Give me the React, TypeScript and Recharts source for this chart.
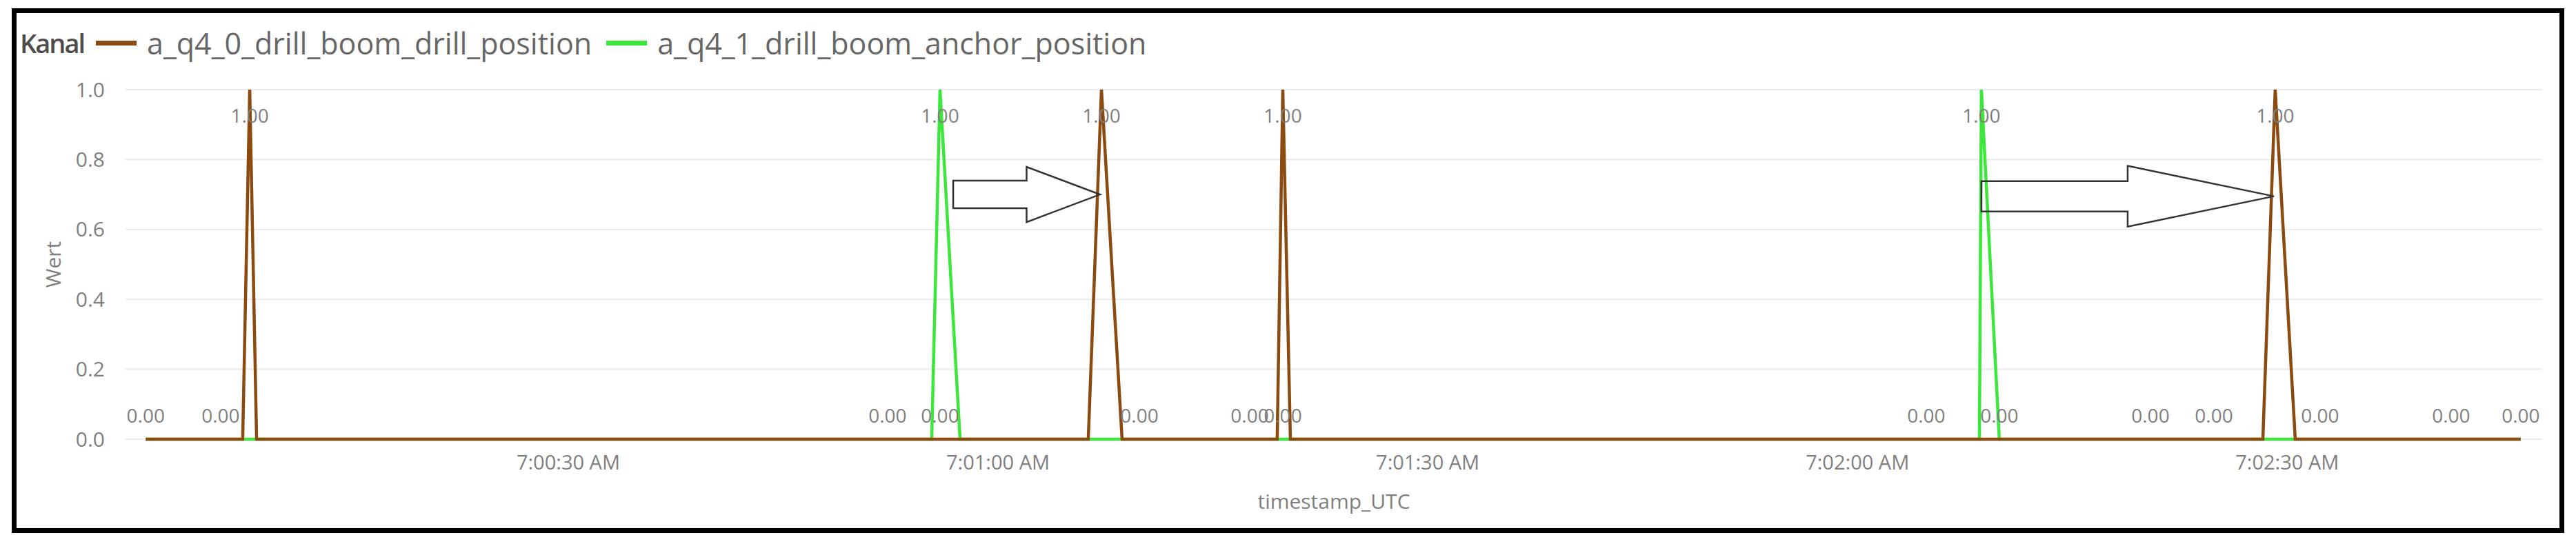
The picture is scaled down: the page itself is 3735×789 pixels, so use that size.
import { LineChart, Line, XAxis, YAxis, CartesianGrid, ReferenceLine, Label } from 'recharts'

const FONT = '"Segoe UI", "Open Sans", sans-serif'
const BROWN = '#8b4a10'
const GREEN = '#3ce63c'
const TEXT = '#7f7f7f'

// seconds after 7:00:00 AM, both channels share the timestamps
const seconds = [
  0.5, 5.73, 7.27, 7.76, 8.24,
  52.29, 55.37, 55.95, 57.35,
  66.3, 67.22, 68.66, 69.87,
  77.57, 79.49, 79.88, 80.41,
  124.8, 128.51, 128.65, 129.9,
  140.45, 144.88, 148.3, 149.16, 150.56,
  152.29, 161.44, 166.3,
]
const drillPosition = [
  0, 0, 0, 1, 0,
  0, 0, 0, 0,
  0, 1, 0, 0,
  0, 0, 1, 0,
  0, 0, 0, 0,
  0, 0, 0, 1, 0,
  0, 0, 0,
]
const anchorPosition = [
  0, 0, 0, 0, 0,
  0, 0, 1, 0,
  0, 0, 0, 0,
  0, 0, 0, 0,
  0, 0, 1, 0,
  0, 0, 0, 0, 0,
  0, 0, 0,
]
// points whose data label is visible (the rest are hidden like in Power BI)
const drillLabelAt = [0.5, 5.73, 7.76, 52.29, 55.95, 67.22, 69.87, 77.57, 79.88, 124.8, 129.9, 140.45, 144.88, 149.16, 152.29, 161.44, 166.3]
const anchorLabelAt = [55.95, 79.88, 128.65]

const xDomain = [-0.91, 167.8]
const xTicks = [30, 60, 90, 120, 150]
const yTicks = [0, 0.2, 0.4, 0.6, 0.8, 1]

// annotation arrows: from time, to time, at value
const arrowFrom = [56.87, 128.65]
const arrowTo = [67.12, 149.07]
const arrowAt = [0.7, 0.695]

const chartData = seconds.map((t, i) => ({
  t,
  drill: drillPosition[i],
  anchor: anchorPosition[i],
  drillLabel: drillLabelAt.includes(t),
  anchorLabel: anchorLabelAt.includes(t),
}))

const arrowSize = [
  { shaft: 20, head: 40 },
  { shaft: 22, head: 44 },
]

function fmtTime(s: number) {
  const m = Math.floor(s / 60)
  const sec = Math.round(s % 60)
  return `7:${String(m).padStart(2, '0')}:${String(sec).padStart(2, '0')} AM`
}

function valueLabel(key: 'drill' | 'anchor', flag: 'drillLabel' | 'anchorLabel') {
  return (p: any) => {
    const { cx, cy, payload, index } = p
    if (!payload || !payload[flag] || cx == null || cy == null) return <g key={`${key}-${index}`} />
    const v = Number(payload[key])
    const y = v >= 1 ? cy + 48 : cy - 24
    return (
      <text key={`${key}-${index}`} x={cx} y={y} textAnchor="middle" fill={TEXT} fontSize={28} fontFamily={FONT}>
        {v.toFixed(2)}
      </text>
    )
  }
}

function BlockArrow(p: any) {
  const { x1, y1, x2, shaft, head } = p
  if (x1 == null || x2 == null) return null
  const hb = x1 + (x2 - x1) / 2
  const pts = [
    [x1, y1 - shaft], [hb, y1 - shaft], [hb, y1 - head], [x2, y1],
    [hb, y1 + head], [hb, y1 + shaft], [x1, y1 + shaft],
  ]
  return <polygon points={pts.map((q) => q.join(',')).join(' ')} fill="none" stroke="#333" strokeWidth={2.5} />
}

function LegendItem({ color, text }: { color: string; text: string }) {
  return (
    <div style={{ display: 'flex', alignItems: 'center', marginRight: 21 }}>
      <span style={{ width: 59, height: 7, background: color, marginRight: 15, display: 'inline-block' }} />
      <span style={{ color: '#666', fontSize: 43 }}>{text}</span>
    </div>
  )
}

export default function App() {
  return (
    <div style={{ position: 'fixed', left: 0, top: 0, width: 3735, height: 789, background: '#fff', overflow: 'hidden', fontFamily: FONT }}>
      <div style={{ position: 'absolute', left: 0, top: 0 }}>
        <LineChart width={3735} height={789} data={chartData} margin={{ top: 130, right: 49, bottom: 42, left: 72 }}>
          <CartesianGrid vertical={false} stroke="#ebebeb" strokeWidth={2} />
          <XAxis
            type="number"
            dataKey="t"
            domain={xDomain}
            ticks={xTicks}
            tickFormatter={fmtTime}
            allowDataOverflow
            axisLine={false}
            tickLine={false}
            height={110}
            tickMargin={17}
            tick={{ fill: TEXT, fontSize: 29, fontFamily: FONT }}
          >
            <Label
              content={({ viewBox }: any) => (
                <text x={viewBox.x + viewBox.width / 2} y={viewBox.y + 101} textAnchor="middle" fill={TEXT} fontSize={30} fontFamily={FONT}>
                  timestamp_UTC
                </text>
              )}
            />
          </XAxis>
          <YAxis
            domain={[0, 1]}
            ticks={yTicks}
            tickFormatter={(v: number) => v.toFixed(1)}
            axisLine={false}
            tickLine={false}
            width={110}
            tickMargin={24}
            tick={{ fill: TEXT, fontSize: 30, fontFamily: FONT }}
          >
            <Label
              content={({ viewBox }: any) => {
                const x = viewBox.x + 4
                const y = viewBox.y + viewBox.height / 2
                return (
                  <text x={x} y={y} transform={`rotate(-90, ${x}, ${y})`} textAnchor="middle" dominantBaseline="central" fill={TEXT} fontSize={30} fontFamily={FONT}>
                    Wert
                  </text>
                )
              }}
            />
          </YAxis>
          <Line dataKey="drill" type="linear" stroke="none" dot={valueLabel('drill', 'drillLabel')} activeDot={false} legendType="none" isAnimationActive={false} />
          <Line dataKey="anchor" type="linear" stroke="none" dot={valueLabel('anchor', 'anchorLabel')} activeDot={false} legendType="none" isAnimationActive={false} />
          <Line dataKey="anchor" type="linear" stroke={GREEN} strokeWidth={4.5} dot={false} activeDot={false} isAnimationActive={false} />
          <Line dataKey="drill" type="linear" stroke={BROWN} strokeWidth={4.5} dot={false} activeDot={false} isAnimationActive={false} />
          {arrowFrom.map((from, i) => (
            <ReferenceLine
              key={i}
              segment={[{ x: from, y: arrowAt[i] }, { x: arrowTo[i], y: arrowAt[i] }]}
              ifOverflow="visible"
              shape={(p: any) => <BlockArrow {...p} shaft={arrowSize[i].shaft} head={arrowSize[i].head} />}
            />
          ))}
        </LineChart>
      </div>
      <div style={{ position: 'absolute', left: 29, top: 35, height: 54, display: 'flex', alignItems: 'center', lineHeight: 1 }}>
        <span style={{ color: '#4d4d4d', fontSize: 38, fontWeight: 600, letterSpacing: -2, marginRight: 17 }}>Kanal</span>
        <LegendItem color={BROWN} text="a_q4_0_drill_boom_drill_position" />
        <LegendItem color={GREEN} text="a_q4_1_drill_boom_anchor_position" />
      </div>
      <div style={{ position: 'absolute', left: 17, top: 12, width: 3701, height: 761, border: '7px solid #000', boxSizing: 'border-box', pointerEvents: 'none' }} />
    </div>
  )
}
